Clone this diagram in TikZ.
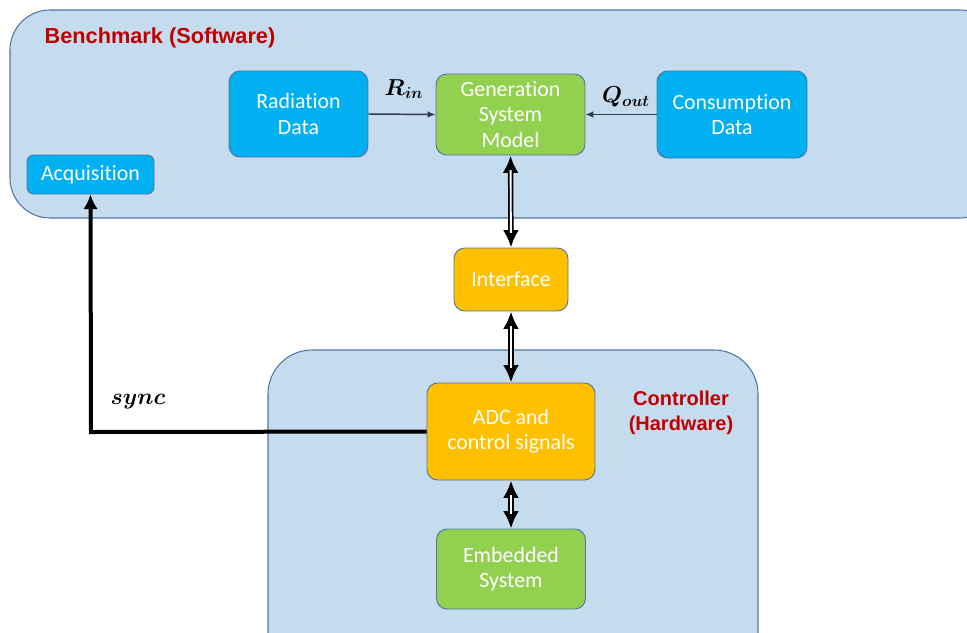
\documentclass[tikz,border=0pt]{standalone}
\usepackage{fontspec}
\setmainfont[Ligatures=NoCommon]{Carlito}
\newfontfamily\titlefont{Liberation Sans}
\usepackage{amsmath,bm}
\usetikzlibrary{arrows.meta}
\definecolor{panelfill}{HTML}{C5DCEF}
\definecolor{paneledge}{HTML}{4F76A3}
\definecolor{skyblue}{HTML}{00B0F0}
\definecolor{leafgreen}{HTML}{92D050}
\definecolor{amber}{HTML}{FFC000}
\definecolor{titlered}{HTML}{C00000}
\definecolor{darkline}{HTML}{2F3A4A}
\begin{document}
\begin{tikzpicture}[x=0.75pt, y=-0.75pt,
    panel/.style={fill=panelfill, draw=paneledge, line width=0.8pt},
    box/.style={draw=paneledge, line width=0.7pt, rounded corners=8pt, text=white, align=center,
        font=\fontsize{16.4}{18.8}\selectfont, inner sep=0pt},
    paneltitle/.style={text=titlered, align=center, font=\titlefont\bfseries\fontsize{15}{18.5}\selectfont},
    thinarrow/.style={draw=darkline, line width=1.1pt, -{Latex[length=6pt, width=5pt]}},
    dblouter/.style={line width=4pt, {Latex[length=13pt, width=12pt]}-{Latex[length=13pt, width=12pt]}},
    dblinner/.style={white, line width=1.4pt, shorten >=11pt, shorten <=11pt},
    mathlabel/.style={font=\fontsize{17}{20}\selectfont}]
    \useasboundingbox (0,0) rectangle (967,632);
    \clip (0,0) rectangle (967,632);
    % panels
    \draw[panel, rounded corners=30pt] (10,10) rectangle (1000,218);
    \draw[panel, rounded corners=33pt] (268,350) rectangle (758,680);
    \node[paneltitle, font=\titlefont\bfseries\fontsize{16.3}{19}\selectfont] (benchtitle) at (160,38) {Benchmark (Software)};
    \node[paneltitle] (ctrltitle) at (681,413) {Controller\\(Hardware)};
    % blocks
    \node[box, fill=skyblue, minimum width=104pt, minimum height=64.5pt] (rad) at (298.5,114) {Radiation\\Data};
    \node[box, fill=leafgreen, minimum width=111.75pt, minimum height=60.75pt] (gen) at (510.5,114.5) {Generation\\System\\Model};
    \node[box, fill=skyblue, minimum width=112.5pt, minimum height=65.25pt] (cons) at (732,114.5) {Consumption\\Data};
    \node[box, fill=skyblue, rounded corners=5pt, minimum width=95.25pt, minimum height=29.25pt] (acq) at (90.5,174.5) {Acquisition};
    \node[box, fill=amber, minimum width=85.5pt, minimum height=47.25pt] (iface) at (511,279.5) {Interface};
    \node[box, fill=amber, minimum width=126pt, minimum height=72.75pt] (adc) at (511,431.5) {ADC and\\control signals};
    \node[box, fill=leafgreen, minimum width=111.75pt, minimum height=60pt] (emb) at (511,569) {Embedded\\System};
    % inputs to the model
    \draw[thinarrow] (rad.east) -- (gen.west);
    \draw[thinarrow] (cons.west) -- (gen.east);
    \node[mathlabel] (rin) at (404,89) {$\bm{R_{in}}$};
    \node[mathlabel] (qout) at (626,97) {$\bm{Q_{out}}$};
    % bidirectional links
    \foreach \a/\b in {gen/iface, iface/adc, adc/emb} {
        \draw[dblouter] (\a.south) -- (\b.north);
        \draw[dblinner] (\a.south) -- (\b.north);
    }
    % sync
    \coordinate (corner) at (91,432);
    \draw[line width=3pt, -{Latex[length=11pt, width=11pt]}] (adc.west) -- (corner) -- (acq.south);
    \node[mathlabel] (sync) at (138,402) {$\bm{sync}$};
\end{tikzpicture}
\end{document}
